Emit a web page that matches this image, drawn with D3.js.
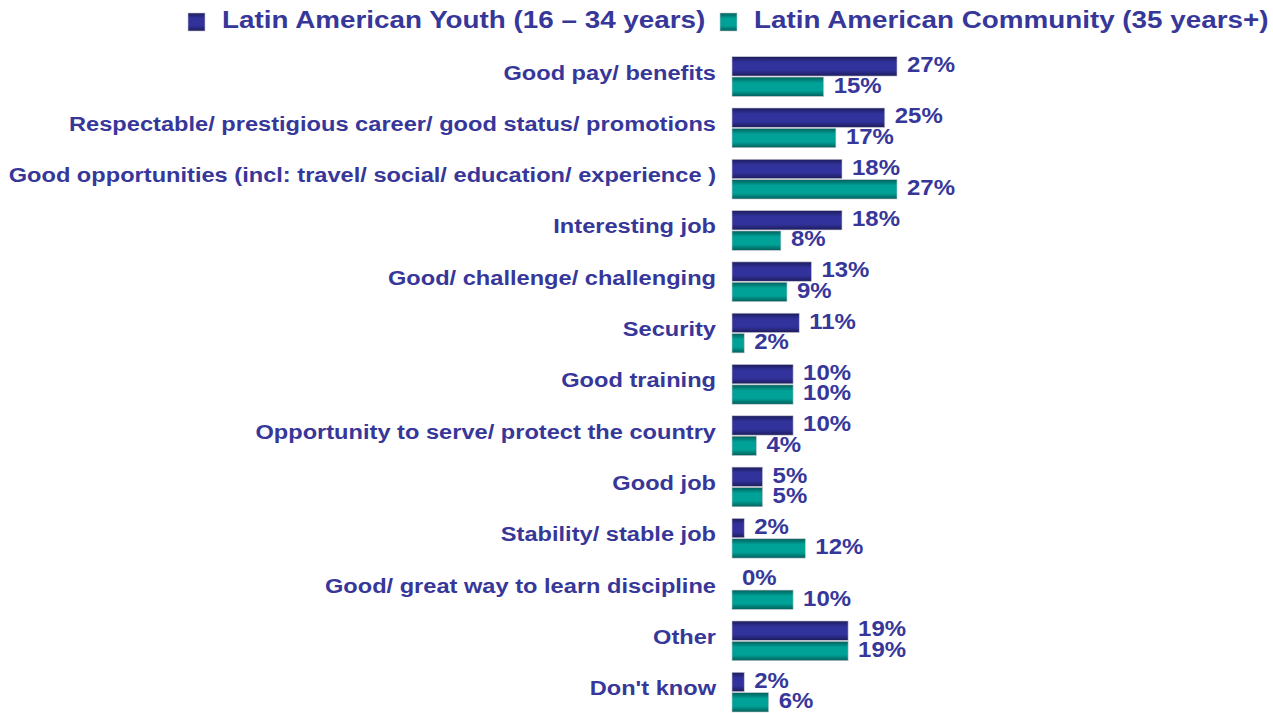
<!DOCTYPE html>
<html>
<head>
<meta charset="utf-8">
<script src="https://cdn.jsdelivr.net/npm/d3@7"></script>
<style>
  html, body { margin: 0; padding: 0; background: #ffffff; }
  svg { display: block; font-family: "Liberation Sans", Arial, sans-serif; font-weight: bold; }
</style>
</head>
<body>
<svg id="chart" width="1273" height="713"></svg>
<script>
// Reasons given, two age groups (percent of respondents)
const categories = [
  "Good pay/ benefits",
  "Respectable/ prestigious career/ good status/ promotions",
  "Good opportunities (incl: travel/ social/ education/ experience )",
  "Interesting job",
  "Good/ challenge/ challenging",
  "Security",
  "Good training",
  "Opportunity to serve/ protect the country",
  "Good job",
  "Stability/ stable job",
  "Good/ great way to learn discipline",
  "Other",
  "Don't know"
];
const seriesNames = ["Latin American Youth (16 – 34 years)", "Latin American Community (35 years+)"];
const youthValues = [27, 25, 18, 18, 13, 11, 10, 10, 5, 2, 0, 19, 2];
const communityValues = [15, 17, 27, 8, 9, 2, 10, 4, 5, 12, 10, 19, 6];

const textColor = "#37379a";
const seriesColors = [
  { edge: "#1c1c5c", mid: "#32329c" },
  { edge: "#005f5a", mid: "#00a197" }
];

const svg = d3.select("#chart");

// vertical gradients give the bars their shaded, rounded look
const defs = svg.append("defs");
seriesColors.forEach((c, i) => {
  const g = defs.append("linearGradient")
    .attr("id", "grad" + i)
    .attr("x1", 0).attr("y1", 0).attr("x2", 0).attr("y2", 1);
  g.append("stop").attr("offset", "0%").attr("stop-color", c.edge);
  g.append("stop").attr("offset", "30%").attr("stop-color", c.mid);
  g.append("stop").attr("offset", "70%").attr("stop-color", c.mid);
  g.append("stop").attr("offset", "100%").attr("stop-color", c.edge);
});

const x = d3.scaleLinear().domain([0, 27]).range([732, 897]);
const y = d3.scaleBand().domain(categories).range([50.9, 50.9 + 51.3 * categories.length]).padding(0);
const ySub = d3.scaleBand().domain([0, 1]).range([5.8, 45.5]).paddingInner(0.05);

// the typeface is drawn a little wider than its natural proportions
const labelStretch = 1.125;
const valueStretch = 1.09;
const legendStretch = 1.21;

const rows = categories.map((c, i) => ({ cat: c, vals: [youthValues[i], communityValues[i]] }));

const row = svg.append("g").selectAll("g.row")
  .data(rows)
  .join("g")
  .attr("class", "row")
  .attr("transform", d => `translate(0,${y(d.cat)})`);

// category labels
row.append("text")
  .attr("transform", `translate(716,${y.bandwidth() / 2 - 2.5}) scale(${labelStretch},1)`)
  .attr("text-anchor", "end")
  .attr("dominant-baseline", "middle")
  .attr("fill", textColor)
  .attr("font-size", 21)
  .text(d => d.cat);

// bars
row.selectAll("rect")
  .data(d => d.vals.map((v, s) => ({ v, s })))
  .join("rect")
  .attr("x", x(0))
  .attr("y", d => ySub(d.s))
  .attr("width", d => x(d.v) - x(0))
  .attr("height", ySub.bandwidth())
  .attr("fill", d => `url(#grad${d.s})`)
  .attr("stroke", "#c8c8d0")
  .attr("stroke-width", d => d.v > 0 ? 0.6 : 0);

// value labels
row.selectAll("text.val")
  .data(d => d.vals.map((v, s) => ({ v, s })))
  .join("text")
  .attr("class", "val")
  .attr("transform", d => `translate(${x(d.v) + 10},${ySub(d.s) + ySub.bandwidth() / 2}) scale(${valueStretch},1)`)
  .attr("dominant-baseline", "middle")
  .attr("fill", textColor)
  .attr("font-size", 22)
  .text(d => d.v + "%");

// legend
const legendItems = [
  { name: seriesNames[0], s: 0, x: 188 },
  { name: seriesNames[1], s: 1, x: 720 }
];
const legend = svg.append("g").selectAll("g")
  .data(legendItems)
  .join("g")
  .attr("transform", d => `translate(${d.x},13)`);
legend.append("rect")
  .attr("width", 17).attr("height", 18)
  .attr("fill", d => `url(#grad${d.s})`)
  .attr("stroke", "#c8c8d0").attr("stroke-width", 0.6);
legend.append("text")
  .attr("transform", `translate(34,8.5) scale(${legendStretch},1)`)
  .attr("dominant-baseline", "middle")
  .attr("fill", textColor)
  .attr("font-size", 23)
  .text(d => d.name);
</script>
</body>
</html>
